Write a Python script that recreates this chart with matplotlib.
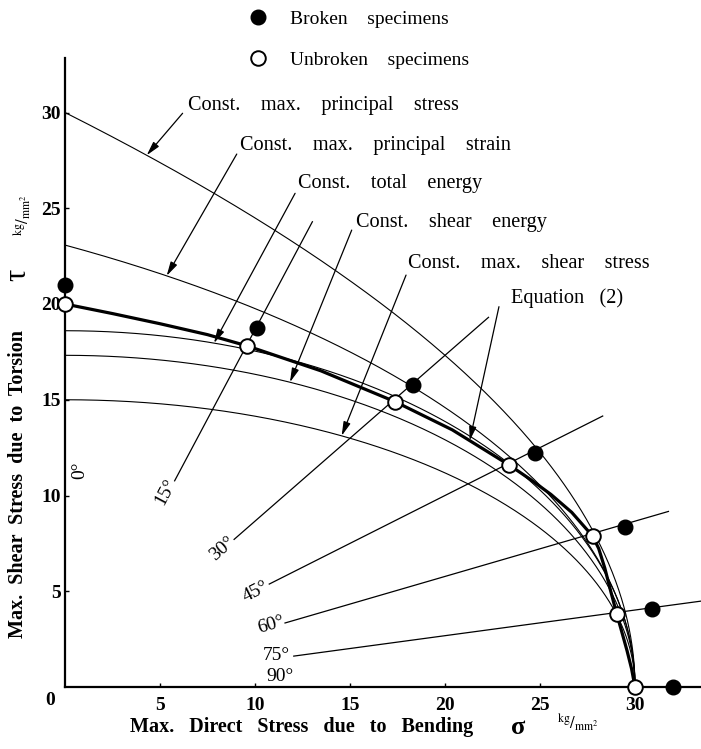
import numpy as np
import matplotlib
matplotlib.use("Agg")
import matplotlib.pyplot as plt
from matplotlib.lines import Line2D

plt.rcParams['font.family'] = ['Liberation Serif', 'DejaVu Serif']
plt.rcParams['mathtext.fontset'] = 'stix'

# Endurance limit in reversed bending (kg/mm^2) and Poisson's ratio
SIGMA_W = 30.0
NU = 0.3

# Test results along each loading direction (angle of the stress ratio line)
angles_deg = [0, 15, 30, 45, 60, 75, 90]
broken_sigma = [0.0, 10.09, 18.33, 24.74, 29.47, 30.88, 32.0]
broken_tau = [21.0, 18.76, 15.77, 12.24, 8.37, 4.06, 0.0]
unbroken_sigma = [0.0, 9.56, 17.37, 23.38, 27.77, 29.04, 30.0]
unbroken_tau = [20.0, 17.82, 14.90, 11.59, 7.88, 3.81, 0.0]

# Curve of Equation (2)
eq2_sigma = [0.0, 2.5, 5.0, 7.5, 9.56, 13.47, 17.37, 20.38, 23.38, 24.48,
             25.57, 26.67, 27.77, 28.09, 28.41, 28.72, 29.04, 29.31, 29.58,
             29.82, 30.0]
eq2_tau = [20.0, 19.5, 18.97, 18.4, 17.82, 16.51, 14.9, 13.43, 11.59, 10.85,
           10.06, 9.12, 7.88, 7.23, 6.21, 5.01, 3.81, 2.86, 1.9, 0.95, 0.0]

# Stress-ratio lines  tau / sigma = cot(theta) / 2
ray_angles = [15, 30, 45, 60, 75]
ray_sigma_start = [5.77, 8.9, 10.75, 11.58, 12.04]
ray_sigma_end = [13.02, 22.29, 28.3, 31.76, 33.5]

# Angle labels: (sigma, tau, rotation)
angle_label_pos = {
    "0°": (0.79, 11.33, 90),
    "15°": (5.31, 10.2, 62),
    "30°": (8.26, 7.24, 41),
    "45°": (10.01, 4.98, 27),
    "60°": (10.84, 3.24, 16),
    "75°": (11.12, 1.62, 0),
    "90°": (11.31, 0.54, 0),
}

# Criterion labels, text anchor, leader start and sigma of arrow tip
crit_names = ["Const.    max.    principal    stress",
              "Const.    max.    principal    strain",
              "Const.    total    energy",
              "Const.    shear    energy",
              "Const.    max.    shear    stress",
              "Equation   (2)"]
crit_text_xy = [(6.49, 30.39), (9.21, 28.30), (12.28, 26.27),
                (15.32, 24.23), (18.04, 22.14), (23.47, 20.31)]
crit_leader_start = [(6.19, 29.96), (9.04, 27.83), (12.11, 25.78),
                     (15.09, 23.86), (17.95, 21.51), (22.84, 19.86)]
crit_tip_sigma = [4.3, 5.35, 7.84, 11.84, 14.56, 21.3]


def principal_stress(s):
    return np.sqrt(np.clip(SIGMA_W ** 2 - SIGMA_W * s, 0, None))


def principal_strain(s):
    r = (2 * SIGMA_W - (1 - NU) * s) / (1 + NU)
    return 0.5 * np.sqrt(np.clip(r ** 2 - s ** 2, 0, None))


def total_energy(s):
    return np.sqrt(np.clip((SIGMA_W ** 2 - s ** 2) / (2 * (1 + NU)), 0, None))


def shear_energy(s):
    return np.sqrt(np.clip((SIGMA_W ** 2 - s ** 2) / 3.0, 0, None))


def max_shear(s):
    return np.sqrt(np.clip((SIGMA_W ** 2 - s ** 2) / 4.0, 0, None))


def equation2(s):
    return np.interp(s, eq2_sigma, eq2_tau)


criteria = [principal_stress, principal_strain, total_energy, shear_energy,
            max_shear, equation2]

fig = plt.figure(figsize=(7.01, 7.49), dpi=100)
ax = fig.add_axes([65 / 701, 62 / 749, 636 / 701, 629 / 749])
ax.set_xlim(0, 636 / 19.0)
ax.set_ylim(0, 629 / 19.15)

for sp in ("top", "right"):
    ax.spines[sp].set_visible(False)
for sp in ("left", "bottom"):
    ax.spines[sp].set_linewidth(1.6)

ax.set_xticks([5, 10, 15, 20, 25, 30])
ax.set_yticks([5, 10, 15, 20, 25, 30])
ax.tick_params(direction="in", length=3, width=1.0, labelsize=14)
ax.tick_params(axis="x", pad=7)
ax.tick_params(axis="y", pad=3)
for lab in ax.get_xticklabels() + ax.get_yticklabels():
    lab.set_fontweight("bold")
ax.text(-0.79, -0.68, "0", ha="center", va="center", fontsize=14,
        fontweight="bold", clip_on=False)

# theoretical criterion curves
t = np.linspace(0, np.pi / 2, 500)
s_grid = SIGMA_W * np.sin(t)
for f in criteria[:5]:
    ax.plot(s_grid, f(s_grid), color="black", lw=0.8, zorder=2)

# Equation (2)
ax.plot(eq2_sigma, eq2_tau, color="black", lw=2.3, zorder=3,
        solid_joinstyle="round", solid_capstyle="round")

# stress-ratio lines
for ang, s0, s1 in zip(ray_angles, ray_sigma_start, ray_sigma_end):
    k = 0.5 / np.tan(np.radians(ang))
    ax.plot([s0, s1], [k * s0, k * s1], color="black", lw=0.9,
            zorder=2, clip_on=False)

for txt, (x, y, rot) in angle_label_pos.items():
    ax.text(x, y, txt, ha="center", va="center", rotation=rot,
            fontsize=14, rotation_mode="anchor")

# criterion labels with leader arrows
for i, name in enumerate(crit_names):
    tx, ty = crit_text_xy[i]
    ax.text(tx, ty, name, ha="left", va="center", fontsize=14.6)
    ts = crit_tip_sigma[i]
    tt = float(criteria[i](ts))
    ax.annotate("", xy=(ts, tt), xytext=crit_leader_start[i],
                arrowprops=dict(arrowstyle="-|>,head_length=0.7,head_width=0.18",
                                lw=0.9, color="black", shrinkA=0, shrinkB=0,
                                mutation_scale=12), zorder=4)

# specimens
ax.plot(broken_sigma, broken_tau, ls="none", marker="o", ms=10.5,
        mfc="black", mec="black", zorder=6, clip_on=False)
ax.plot(unbroken_sigma, unbroken_tau, ls="none", marker="o", ms=10.5,
        mfc="white", mec="black", mew=1.4, zorder=6, clip_on=False)

handles = [Line2D([], [], ls="none", marker="o", ms=10.5, mfc="black", mec="black"),
           Line2D([], [], ls="none", marker="o", ms=10.5, mfc="white", mec="black", mew=1.4)]
ax.legend(handles, ["Broken    specimens", "Unbroken    specimens"],
          loc="upper left", bbox_to_anchor=(248 / 701, 1 - 10 / 749),
          bbox_transform=fig.transFigure, frameon=False, fontsize=14,
          handlelength=1.0, handletextpad=1.15, labelspacing=1.2,
          borderpad=0, borderaxespad=0)

# axis titles
fig.text(130 / 701, 1 - 727 / 749, "Max.   Direct   Stress   due   to   Bending",
         ha="left", va="center", fontsize=14.5, fontweight="bold")
fig.text(518 / 701, 1 - 727 / 749, "σ", ha="center", va="center",
         fontsize=19, fontweight="bold")
fig.text(557 / 701, 1 - 722 / 749, r"${}^{\rm kg}/_{\rm mm^2}$",
         ha="left", va="center", fontsize=12)

fig.text(18 / 701, 1 - 484 / 749, "Max.  Shear  Stress  due  to  Torsion",
         ha="center", va="center", rotation=90, fontsize=14.5, fontweight="bold")
fig.text(18 / 701, 1 - 275 / 749, "τ", ha="center", va="center",
         rotation=90, fontsize=22)
fig.text(22 / 701, 1 - 215 / 749, r"${}^{\rm kg}/_{\rm mm^2}$",
         ha="center", va="center", rotation=90, fontsize=12)

fig.savefig("out.png", dpi=100)
